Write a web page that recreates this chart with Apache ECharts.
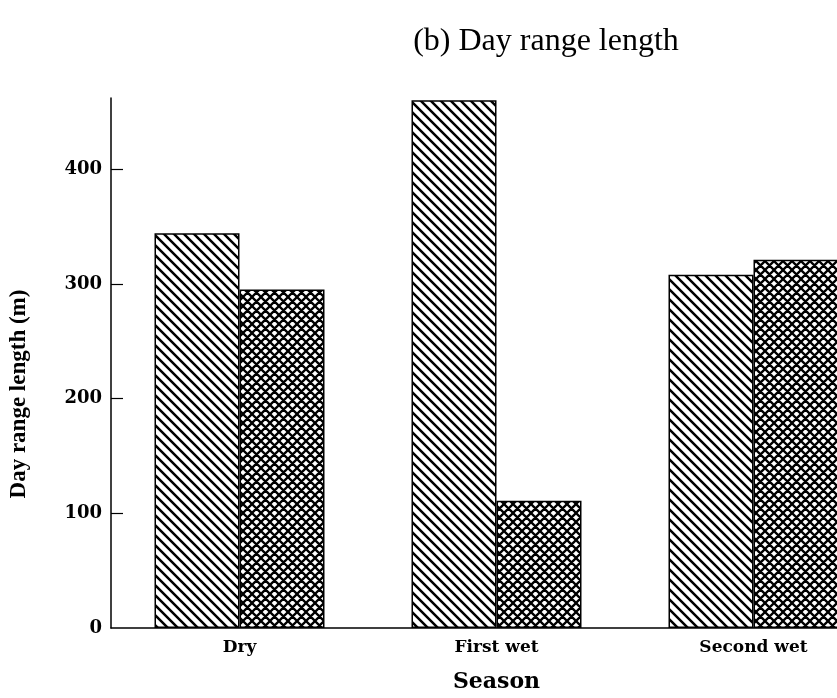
<!DOCTYPE html>
<html>
<head>
<meta charset="utf-8">
<script src="https://cdn.jsdelivr.net/npm/echarts@6/dist/echarts.min.js"></script>
<style>
html,body{margin:0;padding:0;background:#fff;overflow:hidden;width:837px;height:698px;}
#chart{width:882px;height:698px;}
</style>
</head>
<body>
<div id="chart"></div>
<script>
const categories = ['Dry', 'First wet', 'Second wet'];
const seriesDiagonal = [344, 460, 308];
const seriesCrossed = [295, 111, 321];
const yTickLabels = [0, 100, 200, 300, 400];
const yTickMarks = [100, 200, 300, 400];

function makePattern(size, both, lw) {
  const c = document.createElement('canvas');
  c.width = size; c.height = size;
  const g = c.getContext('2d');
  g.fillStyle = '#fff';
  g.fillRect(0, 0, size, size);
  g.strokeStyle = '#000';
  g.lineWidth = lw;
  g.beginPath();
  for (let k = -1; k <= 1; k++) {
    g.moveTo(k * size - 1, -1);
    g.lineTo(k * size + size + 1, size + 1);
  }
  if (both) {
    for (let k = -1; k <= 1; k++) {
      g.moveTo(k * size + size + 1, -1);
      g.lineTo(k * size - 1, size + 1);
    }
  }
  g.stroke();
  return c;
}

const diagPattern = makePattern(10, false, 2.5);
const crossPattern = makePattern(9, true, 2.3);

const chart = echarts.init(document.getElementById('chart'), null, {renderer: 'canvas'});
const serifBold = {fontFamily: 'DejaVu Serif', fontWeight: 'bold', color: '#000'};

chart.setOption({
  backgroundColor: '#fff',
  animation: false,
  title: {
    text: '(b) Day range length',
    left: 541,
    top: 21,
    textAlign: 'center',
    textStyle: {fontFamily: 'Liberation Serif', fontWeight: 'normal', fontSize: 32, color: '#000'}
  },
  grid: {left: 111, right: 0, top: 98, bottom: 65, containLabel: false},
  xAxis: {
    type: 'category',
    data: categories,
    name: 'Season',
    nameLocation: 'middle',
    nameGap: 43,
    nameTextStyle: Object.assign({}, serifBold, {fontSize: 22}),
    axisLine: {lineStyle: {color: '#000', width: 1.5}},
    axisTick: {show: false},
    axisLabel: Object.assign({}, serifBold, {fontSize: 17, margin: 11})
  },
  yAxis: {
    type: 'value',
    min: 0,
    max: 462,
    interval: 100,
    name: 'Day range length (m)',
    nameLocation: 'middle',
    nameGap: 80,
    nameTextStyle: {fontFamily: 'Liberation Serif', fontWeight: 'bold', fontSize: 23, color: '#000', padding: [0, 62, 0, 0]},
    splitLine: {show: false},
    axisLine: {show: true, lineStyle: {color: '#000', width: 1.5}},
    axisTick: {show: true, inside: true, length: 12, customValues: yTickMarks, lineStyle: {color: '#000', width: 1.2}},
    axisLabel: Object.assign({}, serifBold, {fontSize: 18, margin: 9, customValues: yTickLabels})
  },
  series: [
    {
      name: 'Diagonal',
      type: 'bar',
      data: seriesDiagonal,
      barWidth: 85,
      barGap: '0%',
      itemStyle: {color: {image: diagPattern, repeat: 'repeat'}, borderColor: '#000', borderWidth: 1.5}
    },
    {
      name: 'Crossed',
      type: 'bar',
      data: seriesCrossed,
      barWidth: 85,
      barGap: '0%',
      itemStyle: {color: {image: crossPattern, repeat: 'repeat'}, borderColor: '#000', borderWidth: 1.5}
    }
  ]
});
</script>
</body>
</html>
